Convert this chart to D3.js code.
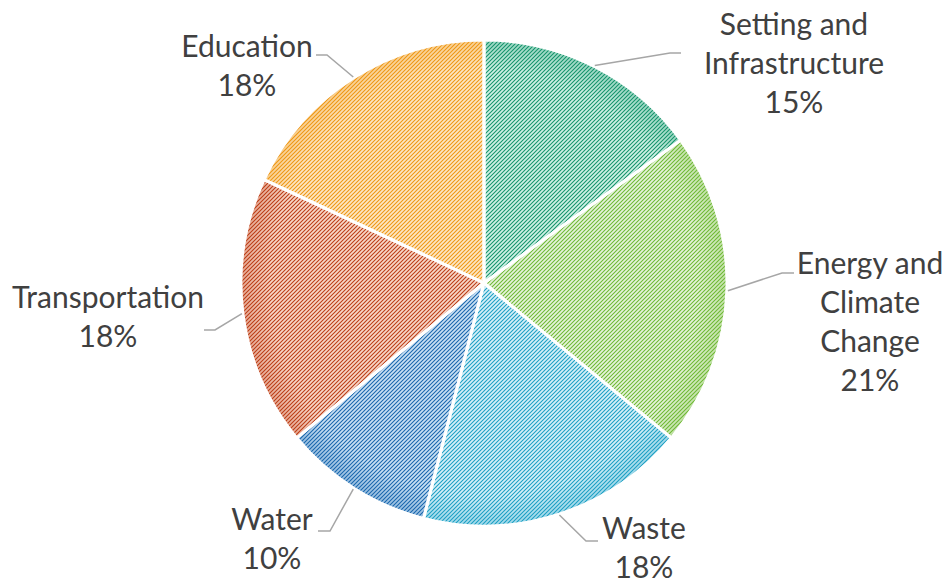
<!DOCTYPE html>
<html>
<head>
<meta charset="utf-8">
<script src="https://cdn.jsdelivr.net/npm/d3@7"></script>
<style>
  body { margin: 0; background: #fff; }
  svg text { font-family: Lato, "Open Sans", sans-serif; fill: #404040; }
</style>
</head>
<body>
<svg id="chart" width="946" height="583"></svg>
<script>
// data
const categories = ['Setting and Infrastructure', 'Energy and Climate Change', 'Waste', 'Water', 'Transportation', 'Education'];
const labelLines = [['Setting and', 'Infrastructure'], ['Energy and', 'Climate', 'Change'], ['Waste'], ['Water'], ['Transportation'], ['Education']];
const values = [15, 21, 18, 10, 18, 18];
const fgColors = ['#13936a', '#6db832', '#1a9fc4', '#1766ad', '#bb3c14', '#ee9612'];
const bgColors = ['#cff1e5', '#e6f4da', '#d6f0f8', '#c9e0f4', '#f8d6c8', '#fde7c4'];

// label placement: text centre x, first baseline, leader elbow, leader end x
const labelLayout = [
  { x: 794, y: 35, ex: 670, ey: 53, tx: 681 },
  { x: 870, y: 274, ex: 782, ey: 273, tx: 794 },
  { x: 644, y: 539, ex: 586, ey: 541, tx: 598 },
  { x: 272, y: 530, ex: 330, ey: 531, tx: 318 },
  { x: 108, y: 308, ex: 215, ey: 330, tx: 204 },
  { x: 247, y: 57, ex: 327, ey: 55, tx: 316 }
];

const cx = 484, cy = 283, radius = 243;
const lineH = 39;

const svg = d3.select('#chart');
const defs = svg.append('defs');

// hatch patterns (upward diagonal)
categories.forEach((c, i) => {
  const p = defs.append('pattern')
    .attr('id', 'hatch' + i)
    .attr('patternUnits', 'userSpaceOnUse')
    .attr('width', 4).attr('height', 4);
  p.append('rect').attr('width', 4).attr('height', 4).attr('fill', bgColors[i]);
  p.append('path')
    .attr('d', 'M-1,1 l2,-2 M0,4 l4,-4 M3,5 l2,-2')
    .attr('stroke', fgColors[i])
    .attr('stroke-width', 1.05);

  // soft rim shading
  const g = defs.append('radialGradient')
    .attr('id', 'rim' + i)
    .attr('gradientUnits', 'userSpaceOnUse')
    .attr('cx', 0).attr('cy', 0).attr('r', radius);
  g.append('stop').attr('offset', 0.88).attr('stop-color', fgColors[i]).attr('stop-opacity', 0);
  g.append('stop').attr('offset', 1).attr('stop-color', fgColors[i]).attr('stop-opacity', 0.3);
});

const pie = d3.pie().sort(null).value(d => d)(values);
const arc = d3.arc().innerRadius(0).outerRadius(radius);

const g = svg.append('g').attr('transform', `translate(${cx},${cy})`);

g.selectAll('path.slice')
  .data(pie)
  .join('path')
  .attr('class', 'slice')
  .attr('d', arc)
  .attr('fill', (d, i) => `url(#hatch${i})`);

g.selectAll('path.rim')
  .data(pie)
  .join('path')
  .attr('class', 'rim')
  .attr('d', arc)
  .attr('fill', (d, i) => `url(#rim${i})`)
  .attr('stroke', '#fff')
  .attr('stroke-width', 3)
  .attr('stroke-linejoin', 'round');

// leader lines
const total = d3.sum(values);
svg.selectAll('polyline.leader')
  .data(pie)
  .join('polyline')
  .attr('class', 'leader')
  .attr('fill', 'none')
  .attr('stroke', '#a6a6a6')
  .attr('stroke-width', 1.5)
  .attr('points', (d, i) => {
    const a = (d.startAngle + d.endAngle) / 2;
    const r0 = radius + 1;
    const sx = cx + r0 * Math.sin(a), sy = cy - r0 * Math.cos(a);
    const L = labelLayout[i];
    return [[sx, sy], [L.ex, L.ey], [L.tx, L.ey]].map(p => p.join(',')).join(' ');
  });

// labels
const fmt = d3.format('.0%');
pie.forEach((d, i) => {
  const L = labelLayout[i];
  const lines = labelLines[i].concat([fmt(d.value / total)]);
  const t = svg.append('text')
    .attr('text-anchor', 'middle')
    .attr('font-size', 30);
  lines.forEach((s, k) => {
    t.append('tspan').attr('x', L.x).attr('y', L.y + k * lineH).text(s);
  });
});
</script>
</body>
</html>
